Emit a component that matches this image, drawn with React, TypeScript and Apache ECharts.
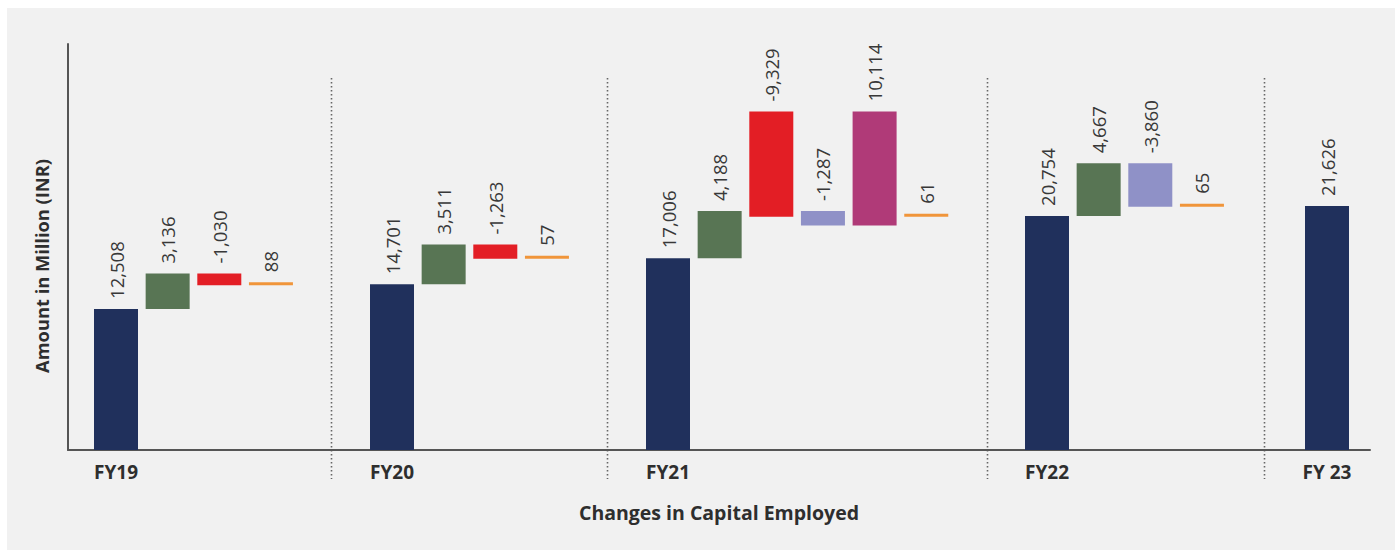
import React, { useEffect, useRef } from "react";
import * as echarts from "echarts";

// ---- data ----
const groupLabels = ["FY19", "FY20", "FY21", "FY22", "FY 23"];

const fy19Kinds = ["total", "increase", "decrease", "minor"];
const fy19Changes = [12508, 3136, -1030, 88];
const fy19Starts = [0, 12508, 15644, 14614];

const fy20Kinds = ["total", "increase", "decrease", "minor"];
const fy20Changes = [14701, 3511, -1263, 57];
const fy20Starts = [0, 14701, 18212, 16949];

const fy21Kinds = ["total", "increase", "decrease", "reduction", "addition", "minor"];
const fy21Changes = [17006, 4188, -9329, -1287, 10114, 61];
const fy21Starts = [0, 17006, 30021, 21194, 19907, 20692];

const fy22Kinds = ["total", "increase", "reduction", "minor"];
const fy22Changes = [20754, 4667, -3860, 65];
const fy22Starts = [0, 20754, 25421, 21561];

const fy23Kinds = ["total"];
const fy23Changes = [21626];
const fy23Starts = [0];

const yMax = 36000;

const groups = [
  { kinds: fy19Kinds, changes: fy19Changes, starts: fy19Starts },
  { kinds: fy20Kinds, changes: fy20Changes, starts: fy20Starts },
  { kinds: fy21Kinds, changes: fy21Changes, starts: fy21Starts },
  { kinds: fy22Kinds, changes: fy22Changes, starts: fy22Starts },
  { kinds: fy23Kinds, changes: fy23Changes, starts: fy23Starts },
];

// ---- styles & layout ----
const kindColors: Record<string, string> = {
  total: "#20305c",
  increase: "#587554",
  decrease: "#e31e25",
  minor: "#f0953a",
  reduction: "#8f91c7",
  addition: "#b03a78",
};

const FONT = "'Open Sans', 'DejaVu Sans', sans-serif";
const TEXT = "#2e2e2e";
const slot = 51.65;
const barWidth = 44;
const firstCenters = [116, 392, 668, 1047, 1327];
const plotLeft = 68;
const plotRight = 1370;
const plotTop = 44;
const plotBottom = 450;

export default function App() {
  const ref = useRef<HTMLDivElement>(null);

  useEffect(() => {
    if (!ref.current) return;
    const chart = echarts.init(ref.current, undefined, { renderer: "svg" });

    const grids: any[] = [
      { left: plotLeft, top: plotTop, width: plotRight - plotLeft, height: plotBottom - plotTop },
    ];
    const xAxes: any[] = [
      {
        type: "value",
        gridIndex: 0,
        min: 0,
        max: 1,
        axisLine: { show: true, lineStyle: { color: "#555", width: 2 } },
        axisTick: { show: false },
        axisLabel: { show: false },
        splitLine: { show: false },
        name: "Changes in Capital Employed",
        nameLocation: "middle",
        nameGap: 52,
        nameTextStyle: { fontFamily: FONT, fontWeight: "bold", fontSize: 19.5, color: TEXT },
      },
    ];
    const yAxes: any[] = [
      {
        type: "value",
        gridIndex: 0,
        min: 0,
        max: 1,
        axisLine: { show: true, lineStyle: { color: "#555", width: 2 } },
        axisTick: { show: false },
        axisLabel: { show: false },
        splitLine: { show: false },
      },
    ];
    const series: any[] = [];
    const graphics: any[] = [
      {
        type: "rect",
        z: -100,
        silent: true,
        shape: { x: 7, y: 8, width: 1388, height: 542 },
        style: { fill: "#f1f1f1" },
      },
      {
        type: "text",
        x: 41,
        y: 266,
        rotation: Math.PI / 2,
        silent: true,
        style: {
          text: "Amount in Million (INR)",
          fontFamily: FONT,
          fontWeight: "bold",
          fontSize: 18.3,
          fill: TEXT,
          align: "center",
          verticalAlign: "middle",
        },
      },
    ];

    groups.forEach((g, i) => {
      const n = g.changes.length;
      const idx = i + 1;
      grids.push({
        left: firstCenters[i] - slot / 2,
        top: plotTop,
        width: n * slot,
        height: plotBottom - plotTop,
      });
      xAxes.push({
        type: "category",
        gridIndex: idx,
        data: g.changes.map((_, j) => (j === 0 ? groupLabels[i] : "")),
        axisLine: { show: false },
        axisTick: { show: false },
        axisLabel: {
          interval: 0,
          margin: 12,
          fontFamily: FONT,
          fontWeight: "bold",
          fontSize: 19,
          color: TEXT,
        },
      });
      yAxes.push({ type: "value", gridIndex: idx, min: 0, max: yMax, show: false });
      const lows = g.changes.map((c, j) => Math.min(g.starts[j], g.starts[j] + c));
      series.push({
        type: "bar",
        xAxisIndex: idx,
        yAxisIndex: idx,
        stack: "g" + i,
        barWidth,
        silent: true,
        itemStyle: { color: "transparent" },
        data: lows,
      });
      series.push({
        type: "bar",
        xAxisIndex: idx,
        yAxisIndex: idx,
        stack: "g" + i,
        barWidth,
        barMinHeight: 3,
        data: g.changes.map((c, j) => ({
          value: Math.abs(c),
          itemStyle: { color: kindColors[g.kinds[j]] },
        })),
        label: {
          show: true,
          position: "top",
          rotate: 90,
          align: "left",
          verticalAlign: "middle",
          distance: 10,
          fontFamily: FONT,
          fontSize: 18.5,
          color: "#383838",
          formatter: (p: any) => g.changes[p.dataIndex].toLocaleString("en-US"),
        },
      });
      if (i < groups.length - 1) {
        const lastCenter = firstCenters[i] + (n - 1) * slot;
        const x = Math.round((lastCenter + firstCenters[i + 1]) / 2) + 0.5;
        graphics.push({
          type: "line",
          silent: true,
          shape: { x1: x, y1: 78, x2: x, y2: 479 },
          style: { stroke: "#666", lineWidth: 1.6, lineDash: [1.6, 2.4] },
        });
      }
    });

    chart.setOption({
      animation: false,
      backgroundColor: "#ffffff",
      grid: grids,
      xAxis: xAxes,
      yAxis: yAxes,
      series,
      graphic: graphics,
    });

    return () => chart.dispose();
  }, []);

  return (
    <div
      ref={ref}
      style={{ position: "fixed", left: 0, top: 0, width: 1399, height: 550 }}
    />
  );
}
